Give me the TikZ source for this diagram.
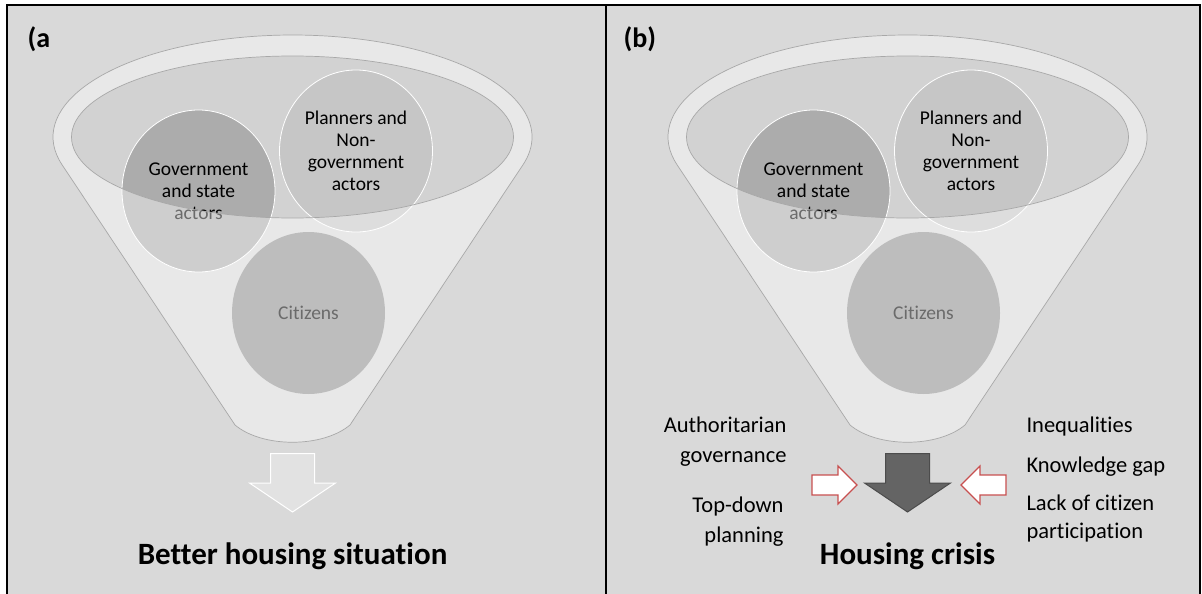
\documentclass[tikz,border=0pt]{standalone}
\usepackage{fontspec}
\setmainfont[Ligatures=NoCommon]{Carlito}
\usetikzlibrary{shapes.geometric}

\definecolor{panelbg}{RGB}{217,217,217}
\definecolor{holegray}{RGB}{210,210,210}
\definecolor{rimgray}{RGB}{168,168,168}
\definecolor{govgray}{RGB}{172,172,172}
\definecolor{plangray}{RGB}{198,198,198}
\definecolor{citgray}{RGB}{142,142,142}
\definecolor{flowdark}{RGB}{100,100,100}
\definecolor{flowred}{RGB}{200,80,80}

\tikzset{
  frame/.style={draw=black, line width=2pt},
  actor/.style={ellipse, minimum width=153pt, minimum height=162pt, inner sep=0pt,
    draw=white, line width=0.8pt, align=center, font=\fontsize{19.5}{22}\selectfont},
  funnelbody/.style={fill=white, fill opacity=0.42, even odd rule},
  rimline/.style={draw=rimgray, line width=0.7pt},
  panellabel/.style={anchor=base west, font=\fontsize{28}{32}\selectfont\bfseries},
  outcome/.style={anchor=base, font=\fontsize{31}{36}\selectfont\bfseries},
  factor/.style={font=\fontsize{22.5}{30}\selectfont},
  downarrow/.pic={
    \path[pic actions] (-22,0) -- (22,0) -- (22,29.5) -- (43,29.5) -- (0,58.5)
      -- (-43,29.5) -- (-22,29.5) -- cycle;
  },
  pusharrow/.pic={
    \path[pic actions] (0,0) -- (-19,-19) -- (-19,-10) -- (-45,-10) -- (-45,10)
      -- (-19,10) -- (-19,19) -- cycle;
  },
}

\begin{document}
\begin{tikzpicture}[x=1pt, y=-1pt]
  \useasboundingbox[fill=white] (0,0) rectangle (1202,594);
  \fill[panelbg] (7,5) rectangle (1200,600);

  % the two funnels, panel (b) is shifted right
  \foreach \p/\dx in {a/292.5, b/907.5} {
    \begin{scope}[shift={(\dx,0)}]
      \fill[holegray] (0,137) ellipse [x radius=221, y radius=81];

      \node[actor, fill=govgray] (gov\p) at (-94,191) {Government\\and state\\actors};
      \node[actor, fill=plangray] (plan\p) at (63.5,151) {Planners and\\Non-\\government\\actors};
      \node[actor, fill=citgray, draw=none] (cit\p) at (16,313) {Citizens};

      % translucent body with the opening cut out
      \fill[funnelbody] (-230.4,164.8) arc[start angle=164.2, end angle=375.8, x radius=239.5, y radius=102]
        -- (57.5,425) .. controls (30,448) and (-30,448) .. (-57.5,425) -- cycle
        (0,137) ellipse [x radius=221, y radius=81];
      \draw[rimline] (-230.4,164.8) arc[start angle=164.2, end angle=375.8, x radius=239.5, y radius=102]
        -- (57.5,425) .. controls (30,448) and (-30,448) .. (-57.5,425) -- cycle;
      \draw[rimline] (0,137) ellipse [x radius=221, y radius=81];
    \end{scope}
  }

  % outcome arrows
  \pic[fill=panelbg!75!white, draw=white, line width=1pt] at (292.5,453.5) {downarrow};
  \pic[fill=flowdark, draw=black!70, line width=1pt] at (907.5,453.5) {downarrow};
  \pic[fill=white, draw=flowred, line width=1.2pt] at (857,485) {pusharrow};
  \pic[fill=white, draw=flowred, line width=1.2pt, xscale=-1] at (961,485) {pusharrow};

  \node[panellabel] (laba) at (24,48) {(a};
  \node[panellabel] (labb) at (620,48) {(b)};

  \node[outcome] (better) at (292.5,564) {Better housing situation};
  \node[outcome] (crisis) at (907.5,564) {Housing crisis};

  % factors acting on the crisis (base = last line)
  \node[factor, anchor=base east, align=right] (auth) at (790,462) {Authoritarian\\governance};
  \node[factor, anchor=base east, align=right] (topdown) at (787,542) {Top-down\\planning};
  \node[factor, anchor=base west] (ineq) at (1023,432) {Inequalities};
  \node[factor, anchor=base west] (gap) at (1023,472) {Knowledge gap};
  \node[factor, anchor=base west, align=left, font=\fontsize{22.5}{28}\selectfont] (lack) at (1023,538) {Lack of citizen\\participation};

  \draw[frame] (7,5) rectangle (1200,600);
  \draw[frame] (606,5) -- (606,600);
\end{tikzpicture}
\end{document}
